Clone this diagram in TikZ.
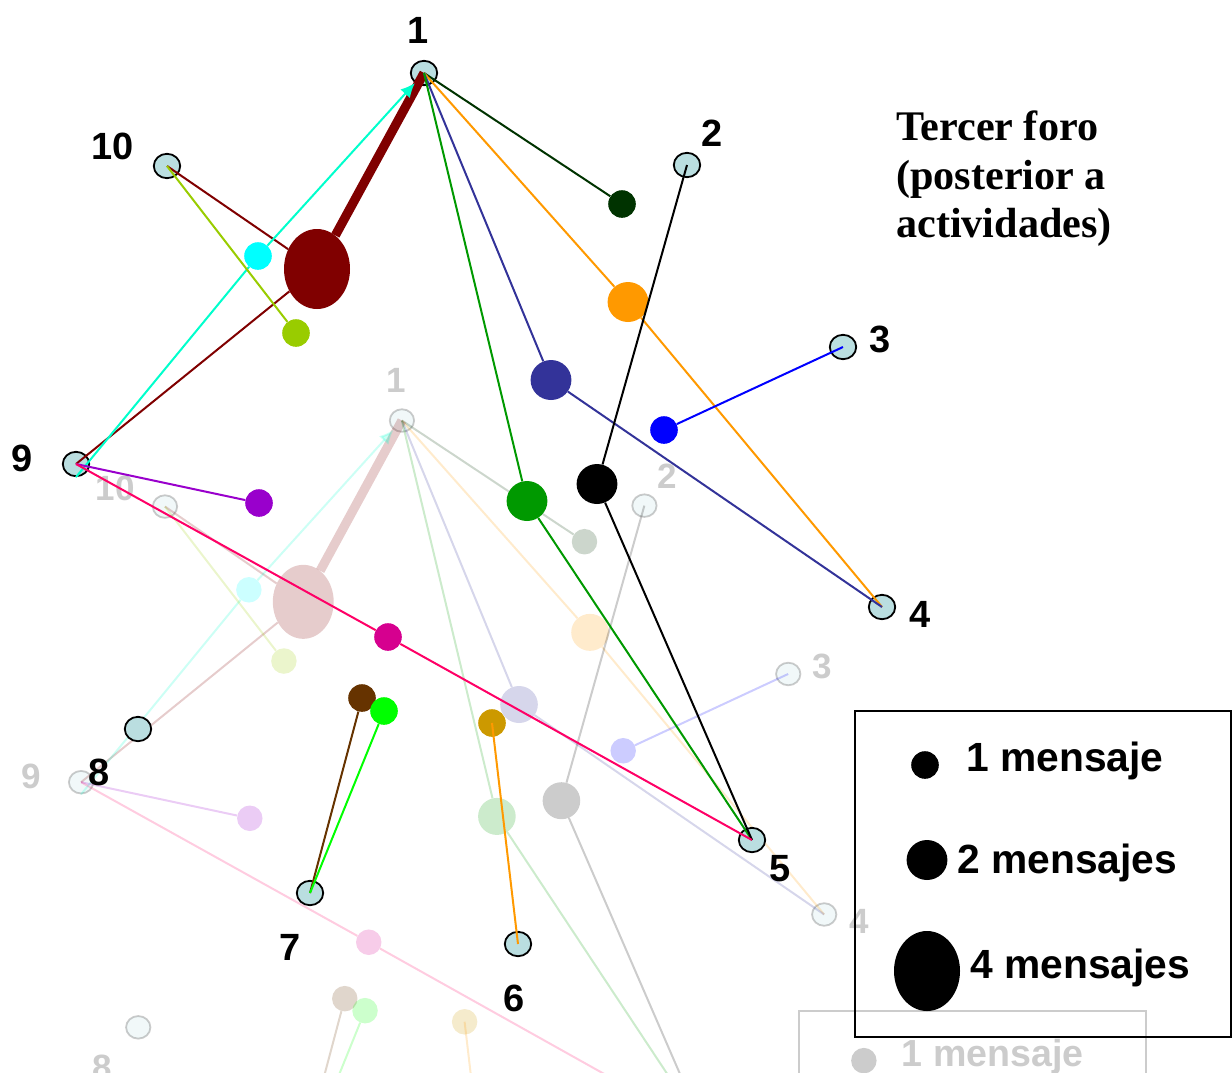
\documentclass[tikz,border=0pt]{standalone}
\usepackage{fontspec}
\setmainfont{Liberation Sans}
\newfontfamily\titlefont{Liberation Serif}
\usetikzlibrary{arrows.meta,shapes.geometric}
\definecolor{nodefill}{RGB}{186,222,224}
\definecolor{cMaroon}{RGB}{128,0,0}
\definecolor{cCyan}{RGB}{0,255,255}
\definecolor{cAqua}{RGB}{0,255,204}
\definecolor{cLime}{RGB}{153,204,0}
\definecolor{cDkGreen}{RGB}{0,51,0}
\definecolor{cOrange}{RGB}{255,153,0}
\definecolor{cNavy}{RGB}{51,51,153}
\definecolor{cGreen}{RGB}{0,153,0}
\definecolor{cBlue}{RGB}{0,0,255}
\definecolor{cPurple}{RGB}{153,0,204}
\definecolor{cMagenta}{RGB}{214,0,143}
\definecolor{cRose}{RGB}{255,0,102}
\definecolor{cBrown}{RGB}{102,51,0}
\definecolor{cBright}{RGB}{0,255,0}
\definecolor{cGold}{RGB}{204,153,0}
\tikzset{
    pnode/.style={ellipse, draw, line width=0.45mm, fill=nodefill, inner sep=0pt, minimum width=6.6mm, minimum height=6.1mm},
    msg/.style={ellipse, fill=#1, inner sep=0pt, minimum width=6.9mm, minimum height=6.9mm},
    msgtwo/.style={msg=#1, minimum width=10.2mm, minimum height=10mm},
    msgfour/.style={msg=#1, minimum width=16.5mm, minimum height=20mm},
    link/.style={draw=#1, line width=0.5mm},
    lbl/.style={font=\fontsize{27}{30}\selectfont\bfseries, inner sep=0pt},
    legtext/.style={font=\fontsize{29}{32}\selectfont\bfseries, inner sep=0pt, anchor=base west}}

% one forum graph (drawn twice: faded copy behind, full copy on top)
\newcommand{\forodiagram}{%
\node[pnode] (n1) at (424,73) {};
\node[pnode] (n2) at (687,165) {};
\node[pnode] (n3) at (843,347) {};
\node[pnode] (n4) at (882,607) {};
\node[pnode] (n5) at (752,840) {};
\node[pnode] (n6) at (518,944) {};
\node[pnode] (n7) at (310,893) {};
\node[pnode] (n8) at (138,729) {};
\node[pnode] (n9) at (76,464) {};
\node[pnode] (n10) at (167,166) {};
% messages
\node[msgfour=cMaroon] (dMaroon) at (317,269) {};
\node[msg=cCyan] (dCyan) at (258,256) {};
\node[msg=cLime] (dLime) at (296,333) {};
\node[msg=cDkGreen] (dDkGreen) at (622,204) {};
\node[msgtwo=cOrange] (dOrange) at (628,302) {};
\node[msgtwo=cNavy] (dNavy) at (551,380) {};
\node[msgtwo=black] (dBlack) at (597,484) {};
\node[msgtwo=cGreen] (dGreen) at (527,501) {};
\node[msg=cBlue] (dBlue) at (664,430) {};
\node[msg=cPurple] (dPurple) at (259,503) {};
\node[msg=cMagenta] (dMagenta) at (388,637) {};
\node[msg=cBrown] (dBrown) at (362,698) {};
\node[msg=cBright] (dBright) at (384,711) {};
\node[msg=cGold] (dGold) at (492,723) {};
% links
\draw[link=cMaroon, line width=2.3mm] (dMaroon) -- (n1.center);
\draw[link=cMaroon] (n10.center) -- (dMaroon);
\draw[link=cMaroon] (n9.center) -- (dMaroon);
\draw[link=cAqua] (n9.south) -- (dCyan);
\draw[link=cAqua, -{Latex[length=3.6mm,width=3.2mm]}] (dCyan) -- (n1);
\draw[link=cLime] (n10.center) -- (dLime);
\draw[link=cDkGreen] (n1.center) -- (dDkGreen);
\draw[link=cOrange] (n1.center) -- (dOrange);
\draw[link=cOrange] (dOrange) -- (n4.center);
\draw[link=cNavy] (n1.center) -- (dNavy);
\draw[link=cNavy] (dNavy) -- (n4.center);
\draw[link=cGreen] (n1.center) -- (dGreen);
\draw[link=cGreen] (dGreen) -- (n5.center);
\draw[link=black] (n2.center) -- (dBlack);
\draw[link=black] (dBlack) -- (n5.center);
\draw[link=cBlue] (n3.center) -- (dBlue);
\draw[link=cPurple] (n9.center) -- (dPurple);
\draw[link=cRose] (n9.center) -- (dMagenta);
\draw[link=cRose] (dMagenta) -- (n5.center);
\draw[link=cBrown] (n7.center) -- (dBrown);
\draw[link=cBright] (n7.center) -- (dBright);
\draw[link=cOrange] (n6.center) -- (dGold.center);
% participant numbers
\node[lbl] (l1) at (418,30) {1};
\node[lbl] (l2) at (712,133) {2};
\node[lbl] (l3) at (880,339) {3};
\node[lbl] (l4) at (920,614) {4};
\node[lbl] (l5) at (780,869) {5};
\node[lbl] (l6) at (514,998) {6};
\node[lbl] (l7) at (290,947) {7};
\node[lbl] (l8) at (99,772) {8};
\node[lbl] (l9) at (22,458) {9};
\node[lbl] (l10) at (113,146) {10};
% legend
\draw[line width=0.45mm] (855,711) rectangle (1231,1037);
\node[msg=black] (k1) at (925,765) {};
\node[msgtwo=black] (k2) at (927,860) {};
\node[msgfour=black] (k4) at (927,971) {};
\node[legtext] (t1) at (966,771) {1 mensaje};
\node[legtext] (t2) at (957,873) {2 mensajes};
\node[legtext] (t4) at (970,978) {4 mensajes};
}

\begin{document}
\begin{tikzpicture}[x=0.25mm, y=-0.25mm]
\useasboundingbox (0,0) rectangle (1232,1072);
\begin{scope}
\clip (0,0) rectangle (1232,1072);
% faded copy
\begin{scope}[shift={(11,353)}, xscale=0.922, yscale=0.925, transform shape, opacity=0.2]
\forodiagram
\end{scope}
\end{scope}

\forodiagram

\node[font=\titlefont\fontsize{30}{34.4}\selectfont\bfseries, align=left, anchor=north west, inner sep=0pt] (title) at (896,111) {Tercer foro\\(posterior a\\actividades)};
\end{tikzpicture}
\end{document}
